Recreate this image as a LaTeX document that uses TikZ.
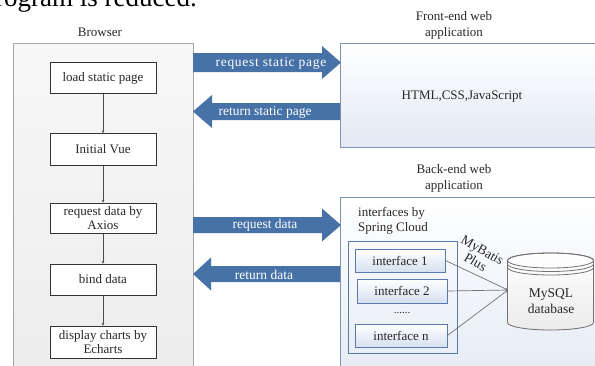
\documentclass[tikz,border=0pt]{standalone}
\usepackage{fontspec}
\setmainfont{Liberation Serif}
\newfontfamily\spacedserif[LetterSpace=5]{Liberation Serif}
\usetikzlibrary{arrows.meta,calc}
\definecolor{arrowblue}{RGB}{70,114,168}
\definecolor{txt}{RGB}{40,40,40}
\definecolor{appbd}{RGB}{125,148,185}
\definecolor{innerbd}{RGB}{88,122,172}
\definecolor{appbot}{RGB}{226,233,244}
\definecolor{ifbot}{RGB}{214,224,240}
\definecolor{brbot}{RGB}{236,236,236}
\tikzset{
  fs/.style={font=\fontsize{13}{15}\selectfont},
  flowbox/.style={draw=black!80, line width=1pt, fill=white, minimum width=106pt, minimum height=31pt, align=center, inner sep=1pt, fs},
  ifbox/.style={draw=innerbd, line width=1pt, top color=white, bottom color=ifbot, minimum height=23pt, inner sep=1pt, fs},
  appbox/.style={draw=appbd, line width=0.8pt, top color=white, bottom color=appbot, anchor=north west},
  conn/.style={draw=black!70, line width=0.9pt, -{Stealth[length=2.5pt,width=2.5pt]}},
  dbline/.style={draw=black!55, line width=0.7pt, -{Stealth[length=2.5pt,width=2.5pt]}},
  blockarrow/.style={fill=arrowblue},
  arrowtext/.style={text=white, font=\fontsize{13.5}{15}\selectfont},
}
\begin{document}
\begin{tikzpicture}[x=1pt,y=-1pt, text=txt, fs]
\useasboundingbox (0,0) rectangle (595,365);
\clip (0,0) rectangle (595,365);
% page text cut off at top
\node[anchor=base east, font=\fontsize{27}{30}\selectfont, text=black, inner sep=0] (pagetext) at (197,6) {program is reduced.};

% Browser
\node[draw=black!35, line width=0.8pt, top color=white!97!black, bottom color=brbot, minimum width=180pt, minimum height=340pt, anchor=north west] (browser) at (13,43) {};
\node (brlabel) at (100,32) {Browser};
\node[flowbox] (b1) at (103,78) {load static page};
\node[flowbox, minimum height=32pt] (b2) at (103,149.5) {Initial Vue};
\node[flowbox, minimum height=30pt] (b3) at (103,218) {request data by\\[-1pt]Axios};
\node[flowbox] (b4) at (103,279.5) {bind data};
\node[flowbox, minimum height=32pt] (b5) at (103,342) {display charts by\\[-1pt]Echarts};
\draw[conn] (b1) -- (b2);
\draw[conn] (b2) -- (b3);
\draw[conn] (b3) -- (b4);
\draw[conn] (b4) -- (b5);

% Front-end
\node[appbox, minimum width=270pt, minimum height=104pt] (fe) at (340,43) {};
\node[align=center, font=\fontsize{13}{16}\selectfont] (felabel) at (454,25) {Front-end web\\application};
\node (fetext) at (462,97) {HTML,CSS,JavaScript};

% Back-end
\node[appbox, minimum width=270pt, minimum height=200pt] (be) at (340,197) {};
\node[align=center, font=\fontsize{13}{16}\selectfont] (belabel) at (454,178) {Back-end web\\application};
\node[align=left, anchor=west, font=\fontsize{13}{15}\selectfont, inner sep=0] (sc) at (358,220.5) {interfaces by\\Spring Cloud};
\node[draw=innerbd, line width=1pt, minimum width=109pt, minimum height=112pt, anchor=north west] (inner) at (348,241) {};
\node[ifbox, minimum width=90pt] (if1) at (400,260.5) {interface 1};
\node[ifbox, minimum width=90pt, minimum height=24pt] (if2) at (402,291) {interface 2};
\node[font=\fontsize{11}{12}\selectfont] (dots) at (402,313) {......};
\node[ifbox, minimum width=92pt] (ifn) at (401,335.5) {interface n};

% database cylinder
\filldraw[draw=black!55, line width=0.8pt, top color=white, bottom color=black!8]
  (507.5,260.5) -- (507.5,322.5) arc[start angle=180, end angle=0, x radius=43, y radius=7.5]
  -- (593.5,260.5) arc[start angle=360, end angle=180, x radius=43, y radius=7.5] -- cycle;
\draw[draw=black!55, line width=0.8pt] (550.5,260.5) ellipse[x radius=43, y radius=7.5];
\draw[draw=black!55, line width=0.8pt] (507.5,264) arc[start angle=180, end angle=0, x radius=43, y radius=7.5];
\draw[draw=black!55, line width=0.8pt] (507.5,267.5) arc[start angle=180, end angle=0, x radius=43, y radius=7.5];
\node[align=center, font=\fontsize{13.5}{16}\selectfont] (db) at (551,301) {MySQL\\database};
\coordinate (dbw) at (508,290);
\draw[dbline] (if1.east) -- (dbw);
\draw[dbline] (if2.east) -- (dbw);
\draw[dbline] (ifn.east) -- (dbw);
\node[rotate=-30, align=center, font=\fontsize{13.5}{14}\selectfont] (mbp) at (479,256) {MyBatis\\Plus};

% block arrows
\fill[blockarrow] (193,53) -- (322,53) -- (322,46) -- (341,62.5) -- (322,79) -- (322,72) -- (193,72) -- cycle;
\node[arrowtext, font=\spacedserif\fontsize{13.5}{15}\selectfont] (a1) at (271,63) {request static page};
\fill[blockarrow] (340,103) -- (212,103) -- (212,95) -- (193,111.5) -- (212,128) -- (212,120) -- (340,120) -- cycle;
\node[arrowtext] (a2) at (265,112) {return static page};
\fill[blockarrow] (193,217) -- (322,217) -- (322,208.5) -- (341,225) -- (322,241.5) -- (322,233) -- (193,233) -- cycle;
\node[arrowtext] (a3) at (265,225.5) {request data};
\fill[blockarrow] (340,266) -- (211,266) -- (211,257.5) -- (193,274) -- (211,290.5) -- (211,282) -- (340,282) -- cycle;
\node[arrowtext] (a4) at (264,274.5) {return data};
\end{tikzpicture}
\end{document}
